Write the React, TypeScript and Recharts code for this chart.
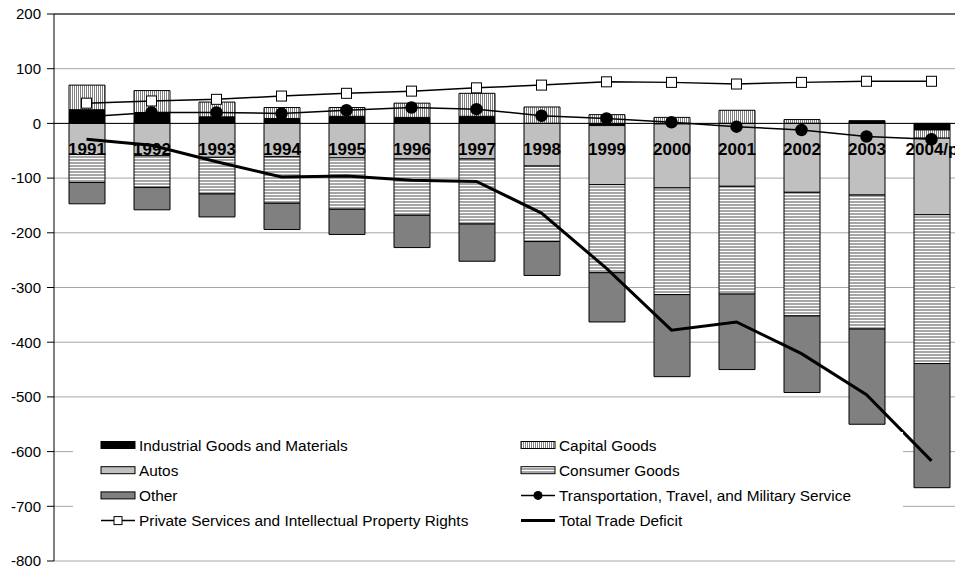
import { ComposedChart, Bar, Line, XAxis, YAxis, CartesianGrid, ReferenceLine, Legend, LabelList } from 'recharts';

// values in billions of dollars
const years = ['1991', '1992', '1993', '1994', '1995', '1996', '1997', '1998', '1999', '2000', '2001', '2002', '2003', '2004/p'];
const industrial = [25, 20, 12, 9, 13, 11, 13, 0, -4, -1, 0, 0, 5, -12];
const capital = [45, 40, 27, 20, 16, 26, 42, 30, 16, 11, 24, 7, 0, -15];
const autos = [-57, -59, -62, -61, -63, -65, -65, -78, -108, -117, -115, -126, -131, -140];
const consumer = [-51, -58, -67, -85, -94, -103, -119, -138, -161, -195, -197, -226, -245, -272];
const other = [-39, -41, -42, -48, -46, -59, -68, -62, -90, -150, -138, -140, -174, -227];
const transport = [12, 20, 20, 18, 24, 29, 26, 14, 9, 2, -6, -12, -24, -29];
const privateServices = [37, 41, 44, 50, 55, 59, 65, 70, 76, 75, 72, 75, 77, 77];
const totalDeficit = [-29, -40, -70, -98, -96, -104, -106, -164, -265, -378, -363, -421, -496, -617];
const yTicks = [200, 100, 0, -100, -200, -300, -400, -500, -600, -700, -800];

const data = years.map((year, i) => ({
  year,
  industrial: industrial[i],
  capital: capital[i],
  autos: autos[i],
  consumer: consumer[i],
  other: other[i],
  transport: transport[i],
  privateServices: privateServices[i],
  totalDeficit: totalDeficit[i],
}));

const W = 964;
const H = 572;
const margin = { top: 14, right: 0, bottom: 11, left: 0 };
const yAxisW = 54;
const plotH = H - margin.top - margin.bottom;
const zeroY = margin.top + (plotH * yTicks[0]) / (yTicks[0] - yTicks[yTicks.length - 1]);
const band = (W - yAxisW - margin.left - margin.right) / years.length;
const font = 'Arial, "Liberation Sans", sans-serif';

function Patterns({ prefix }: { prefix: string }) {
  return (
    <defs>
      <pattern id={prefix + 'capital'} width="2" height="4" patternUnits="userSpaceOnUse">
        <rect width="2" height="4" fill="#fff" />
        <rect width="1" height="4" fill="#808080" />
      </pattern>
      <pattern id={prefix + 'consumer'} width="4" height="3" patternUnits="userSpaceOnUse">
        <rect width="4" height="3" fill="#fff" />
        <rect width="4" height="2" fill="#a6a6a6" />
      </pattern>
    </defs>
  );
}

// small tick marks between the categories on the zero line
const BandTick = (props: any) => {
  const { x, index } = props;
  if (index === 0) return <g />;
  return <line x1={x - band / 2} x2={x - band / 2} y1={zeroY} y2={zeroY + 5} stroke="#000" />;
};

// year labels sit just under the zero line, over the bars
const YearLabel = (props: any) => {
  const { x, width, value } = props;
  return (
    <text x={x + width / 2} y={zeroY + 32} textAnchor="middle" fontSize={17} fontWeight="bold" fontFamily={font} fill="#000">
      {value}
    </text>
  );
};

const Square = (props: any) => {
  const { cx, cy, index } = props;
  return <rect key={'sq' + index} x={cx - 5} y={cy - 5} width={10} height={10} fill="#fff" stroke="#000" strokeWidth={1} />;
};

const legendItems = [
  { name: 'Industrial Goods and Materials', kind: 'bar', fill: '#000' },
  { name: 'Capital Goods', kind: 'bar', fill: 'url(#lg-capital)' },
  { name: 'Autos', kind: 'bar', fill: '#c0c0c0' },
  { name: 'Consumer Goods', kind: 'bar', fill: 'url(#lg-consumer)' },
  { name: 'Other', kind: 'bar', fill: '#808080' },
  { name: 'Transportation, Travel, and Military Service', kind: 'circle' },
  { name: 'Private Services and Intellectual Property Rights', kind: 'square' },
  { name: 'Total Trade Deficit', kind: 'thick' },
];

function LegendBox() {
  return (
    <svg width={830} height={100}>
      <Patterns prefix="lg-" />
      {legendItems.map((it, i) => {
        const x = i % 2 === 0 ? 28 : 448;
        const y = 13 + Math.floor(i / 2) * 25.2;
        return (
          <g key={it.name}>
            {it.kind === 'bar' && <rect x={x} y={y - 3.5} width={34} height={7} fill={it.fill} stroke="#000" />}
            {it.kind !== 'bar' && (
              <line x1={x} x2={x + 34} y1={y} y2={y} stroke="#000" strokeWidth={it.kind === 'thick' ? 3 : 1.5} />
            )}
            {it.kind === 'circle' && <circle cx={x + 17} cy={y} r={4.5} fill="#000" />}
            {it.kind === 'square' && <rect x={x + 13} y={y - 4} width={8} height={8} fill="#fff" stroke="#000" />}
            <text x={x + 38} y={y + 5.5} fontSize={15.4} fontFamily={font} fill="#000">
              {it.name}
            </text>
          </g>
        );
      })}
    </svg>
  );
}

export default function App() {
  return (
    <div style={{ position: 'absolute', left: 0, top: 0, width: 955, height: 572, overflow: 'hidden', background: '#fff' }}>
      <ComposedChart width={W} height={H} data={data} margin={margin} stackOffset="sign" style={{ fontFamily: font }}>
        <Patterns prefix="c-" />
        <CartesianGrid vertical={false} stroke="#a6a6a6" />
        <XAxis
          dataKey="year"
          height={0}
          interval={0}
          tickLine={false}
          axisLine={{ stroke: '#000' }}
          tick={<BandTick />}
        />
        <YAxis
          width={yAxisW}
          domain={[-800, 200]}
          ticks={yTicks}
          interval={0}
          tickSize={7}
          tickMargin={6}
          axisLine={{ stroke: '#000' }}
          tickLine={{ stroke: '#000' }}
          tick={{ fill: '#000', fontSize: 15, fontFamily: font }}
        />
        <Bar dataKey="industrial" stackId="a" barSize={36} fill="#000" stroke="#000" isAnimationActive={false} />
        <Bar dataKey="capital" stackId="a" barSize={36} fill="url(#c-capital)" stroke="#000" isAnimationActive={false} />
        <Bar dataKey="autos" stackId="a" barSize={36} fill="#c0c0c0" stroke="#000" isAnimationActive={false} />
        <Bar dataKey="consumer" stackId="a" barSize={36} fill="url(#c-consumer)" stroke="#000" isAnimationActive={false} />
        <Bar dataKey="other" stackId="a" barSize={36} fill="#808080" stroke="#000" isAnimationActive={false}>
          <LabelList dataKey="year" content={<YearLabel />} />
        </Bar>
        <ReferenceLine y={0} stroke="#000" />
        <ReferenceLine y={200} stroke="#000" />
        <Line dataKey="privateServices" stroke="#000" strokeWidth={1.5} dot={<Square />} activeDot={false} isAnimationActive={false} />
        <Line dataKey="transport" stroke="#000" strokeWidth={1.5} dot={{ r: 5.5, fill: '#000', stroke: '#000' }} activeDot={false} isAnimationActive={false} />
        <Line dataKey="totalDeficit" stroke="#000" strokeWidth={3} dot={false} activeDot={false} isAnimationActive={false} />
        <Legend
          layout="vertical"
          align="center"
          verticalAlign="middle"
          content={<LegendBox />}
          wrapperStyle={{ left: 73, top: 432, width: 830, height: 100, background: '#fff' }}
        />
      </ComposedChart>
    </div>
  );
}
